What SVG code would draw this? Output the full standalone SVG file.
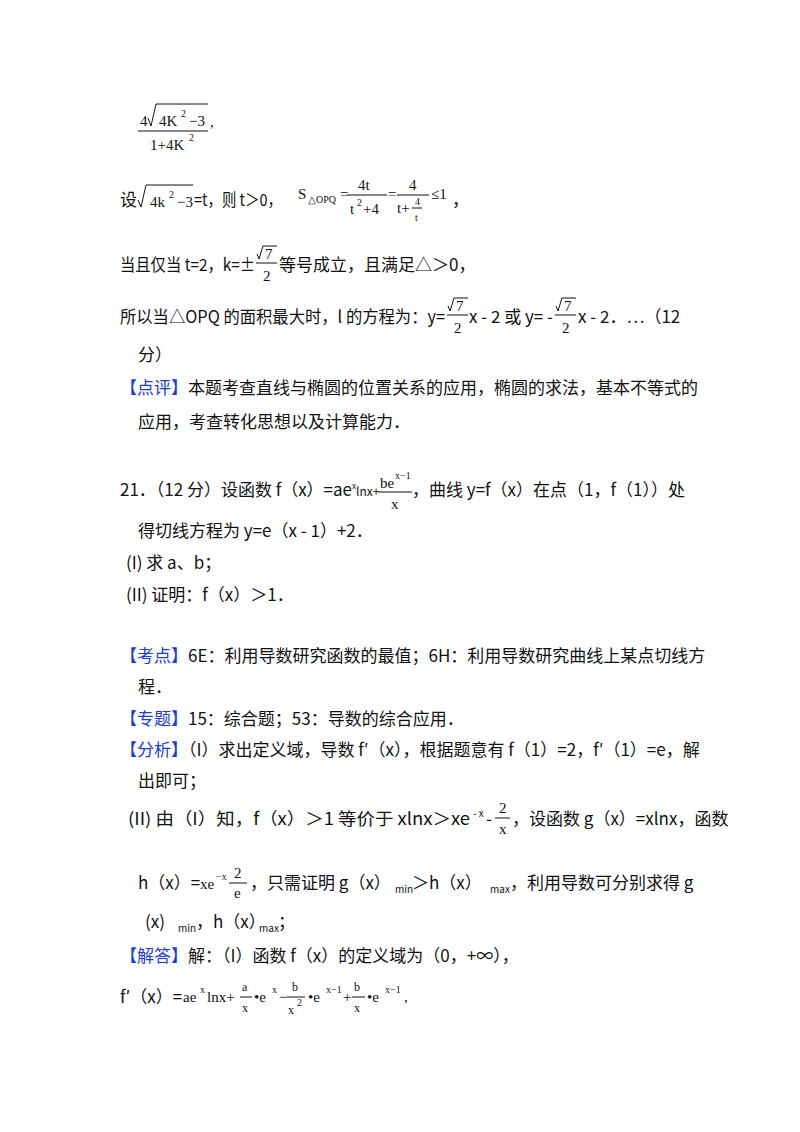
<svg xmlns="http://www.w3.org/2000/svg" width="800" height="1132" viewBox="0 0 800 1132">
<style>
text{font-family:"Noto Sans CJK SC","Noto Sans",sans-serif;font-size:17px;fill:#111}
.m{font-family:"Liberation Serif",serif;font-size:15px}
.s{font-size:10px}
.t{font-size:12px}
.b{fill:#1a3cd8}
line{stroke:#111;stroke-width:1}
path{fill:none;stroke:#111;stroke-width:1}
</style>
<rect width="800" height="1132" fill="#fff"/>
<g id="content">
<text class="m" x="140" y="126">4</text>
<path d="M148 118 L151 126 L156 104 L208 104"/>
<text class="m" x="159" y="126">4K</text><text class="m s" x="181" y="117">2</text><text class="m" x="189" y="126">−3</text>
<line x1="138" y1="131" x2="208" y2="131"/>
<text class="m" x="150" y="150">1+4K</text><text class="m s" x="189" y="141">2</text>
<text class="m" x="210" y="127">,</text>

<text x="120" y="206">设</text>
<path d="M138 200 L141 207 L146 185 L193 185"/>
<text class="m" x="150" y="207">4k</text><text class="m s" x="169" y="198">2</text><text class="m" x="177" y="207">−3</text>
<text x="194" y="206" textLength="88" lengthAdjust="spacingAndGlyphs">=t，则 t＞0，</text>
<text class="m" x="298" y="199">S</text><text class="m s" x="308" y="203">△OPQ</text>
<text class="m" x="340" y="199">=</text>
<text class="m" x="358" y="190">4t</text><line x1="347" y1="195" x2="387" y2="195"/><text class="m" x="350" y="214">t</text><text class="m s" x="357" y="206">2</text><text class="m" x="363" y="214">+4</text>
<text class="m" x="388" y="199">=</text>
<text class="m" x="409" y="190">4</text><line x1="397" y1="195" x2="429" y2="195"/><text class="m" x="397" y="213">t+</text><text class="m s" x="415" y="205">4</text><line x1="412" y1="208" x2="422" y2="208"/><text class="m s" x="415" y="221">t</text>
<text class="m" x="431" y="199">≤1</text>
<text x="452" y="206">，</text>

<text x="120" y="271" textLength="135" lengthAdjust="spacingAndGlyphs">当且仅当 t=2，k=±</text>
<path d="M257 254 L259 259 L263 246 L277 246"/><text class="m" x="265" y="259">7</text>
<line x1="256" y1="263" x2="277" y2="263"/><text class="m" x="263" y="281">2</text>
<text x="279" y="271">等号成立，且满足△＞0，</text>

<text x="120" y="323" textLength="325" lengthAdjust="spacingAndGlyphs">所以当△OPQ 的面积最大时，l 的方程为：y=</text>
<path d="M448 306 L450 311 L454 298 L468 298"/><text class="m" x="456" y="311">7</text>
<line x1="447" y1="315" x2="468" y2="315"/><text class="m" x="454" y="333">2</text>
<text x="469" y="323" textLength="84" lengthAdjust="spacingAndGlyphs">x - 2 或 y= -</text>
<path d="M556 306 L558 311 L562 298 L576 298"/><text class="m" x="564" y="311">7</text>
<line x1="555" y1="315" x2="576" y2="315"/><text class="m" x="562" y="333">2</text>
<text x="578" y="323">x - 2．…（12</text>
<text x="138" y="361">分）</text>

<text x="120" y="394"><tspan class="b">【点评】</tspan>本题考查直线与椭圆的位置关系的应用，椭圆的求法，基本不等式的</text>
<text x="138" y="428">应用，考查转化思想以及计算能力．</text>

<text x="120" y="496" textLength="232" lengthAdjust="spacingAndGlyphs">21．（12 分）设函数 f（x）=ae</text>
<text style="font-size:8px" x="352" y="489">x</text>
<text class="t" x="356" y="496">lnx+</text>
<text class="m" x="380" y="488">be</text><text class="m s" x="395" y="479">x−1</text>
<line x1="378" y1="492" x2="412" y2="492"/><text class="m" x="391" y="509">x</text>
<text x="412" y="496">，曲线 y=f（x）在点（1，f（1））处</text>
<text x="138" y="537">得切线方程为 y=e（x - 1）+2．</text>
<text x="126" y="569">(I) 求 a、b；</text>
<text x="126" y="601">(II) 证明：f（x）＞1．</text>

<text x="120" y="662"><tspan class="b">【考点】</tspan>6E：利用导数研究函数的最值；6H：利用导数研究曲线上某点切线方</text>
<text x="138" y="693">程．</text>
<text x="120" y="725"><tspan class="b">【专题】</tspan>15：综合题；53：导数的综合应用．</text>
<text x="120" y="756"><tspan class="b">【分析】</tspan>（I）求出定义域，导数 f′（x），根据题意有 f（1）=2，f′（1）=e，解</text>
<text x="138" y="787">出即可；</text>

<text x="128" y="825" textLength="342" lengthAdjust="spacingAndGlyphs">(II) 由（I）知，f（x）＞1 等价于 xlnx＞xe</text>
<text class="s" x="473" y="817">- x</text>
<text x="486" y="825">-</text>
<text class="m" x="499" y="813">2</text><line x1="495" y1="818" x2="510" y2="818"/><text class="m" x="499" y="834">x</text>
<text x="512" y="825">，设函数 g（x）=xlnx，函数</text>

<text x="138" y="889">h（x）=</text>
<text class="m" x="200" y="889">xe</text><text class="m s" x="216" y="880">−x</text>
<line x1="229" y1="883" x2="247" y2="883"/><text class="m" x="234" y="878">2</text><text class="m" x="234" y="898">e</text>
<text x="250" y="889">，只需证明 g（x）</text>
<text class="s" x="395" y="893">min</text>
<text x="412" y="889">＞h（x）</text>
<text class="s" x="490" y="893">max</text>
<text x="510" y="889">，利用导数可分别求得 g</text>
<text x="145" y="928">(x)</text><text class="s" x="178" y="932">min</text><text x="196" y="928">，h（x）</text><text class="s" x="259" y="932">max</text><text x="278" y="928">；</text>

<text x="120" y="962"><tspan class="b">【解答】</tspan>解：（I）函数 f（x）的定义域为（0，+∞），</text>

<text x="120" y="1003">f′（x）=</text>
<text class="m" x="183" y="1002">ae</text><text class="m s" x="200" y="993">x</text><text class="m" x="207" y="1002">lnx+</text>
<line x1="240" y1="997" x2="252" y2="997"/><text class="m t" x="242" y="991">a</text><text class="m t" x="242" y="1012">x</text>
<text class="m" x="254" y="1002">•e</text><text class="m s" x="272" y="993">x</text>
<text class="m" x="279" y="1002">−</text>
<line x1="287" y1="997" x2="305" y2="997"/><text class="m t" x="292" y="991">b</text><text class="m t" x="288" y="1014">x</text><text class="m s" x="297" y="1006">2</text>
<text class="m" x="308" y="1002">•e</text><text class="m s" x="326" y="993">x−1</text>
<text class="m" x="343" y="1002">+</text>
<line x1="352" y1="997" x2="365" y2="997"/><text class="m t" x="354" y="991">b</text><text class="m t" x="354" y="1012">x</text>
<text class="m" x="367" y="1002">•e</text><text class="m s" x="385" y="993">x−1</text>
<text class="m" x="404" y="1002">,</text>
</g>
</svg>
